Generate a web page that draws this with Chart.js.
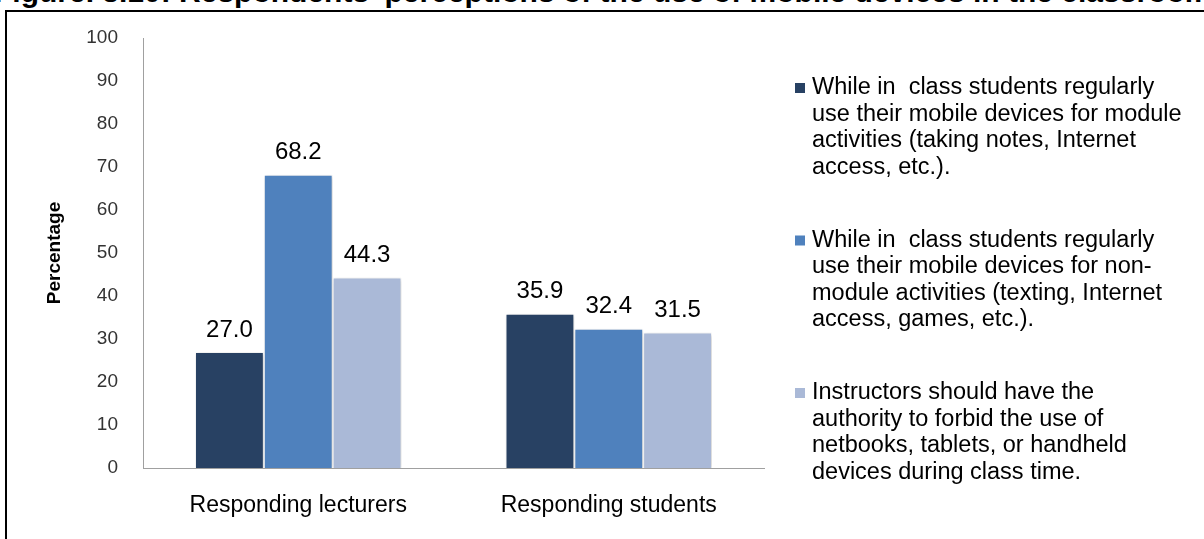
<!DOCTYPE html>
<html>
<head>
<meta charset="utf-8">
<script src="https://cdn.jsdelivr.net/npm/chart.js@4"></script>
<style>
    html, body { margin: 0; padding: 0; background: #fff; overflow: hidden; }
    #wrap { position: relative; width: 1204px; height: 539px; overflow: hidden; }
    #fig-title {
        position: absolute; left: -6px; top: -25px; white-space: nowrap;
        font: bold 30px "Liberation Sans", Arial, sans-serif; color: #000;
    }
    #frame {
        position: absolute; left: 5px; top: 10px; width: 1300px; height: 600px;
        border: 2px solid #000;
    }
    #chart { position: absolute; left: 0; top: 0; }
</style>
</head>
<body>
<div id="wrap">
    <div id="fig-title">Figure. 3.10: Respondents' perceptions of the use of mobile devices in the classroom</div>
    <div id="frame"></div>
    <canvas id="chart" width="1204" height="539"></canvas>
</div>
<script>
// Chart data
const categories = ['Responding lecturers', 'Responding students'];
const moduleUse = [27.0, 35.9];
const nonModuleUse = [68.2, 32.4];
const forbidAuthority = [44.3, 31.5];
const yTicks = [0, 10, 20, 30, 40, 50, 60, 70, 80, 90, 100];

// Legend texts, one array of lines per series
const seriesNames = [
    ['While in  class students regularly', 'use their mobile devices for module', 'activities (taking notes, Internet', 'access, etc.).'],
    ['While in  class students regularly', 'use their mobile devices for non-', 'module activities (texting, Internet', 'access, games, etc.).'],
    ['Instructors should have the', 'authority to forbid the use of', 'netbooks, tablets, or handheld', 'devices during class time.']
];
const seriesColors = ['#284163', '#4f81bd', '#aab9d7'];

const FONT = '"Liberation Sans", Arial, sans-serif';

// Value labels above the bars
const valueLabels = {
    id: 'valueLabels',
    afterDatasetsDraw(chart) {
        const ctx = chart.ctx;
        ctx.save();
        ctx.font = '24px ' + FONT;
        ctx.fillStyle = '#000';
        ctx.textAlign = 'center';
        ctx.textBaseline = 'middle';
        chart.data.datasets.forEach((ds, i) => {
            chart.getDatasetMeta(i).data.forEach((bar, j) => {
                ctx.fillText(ds.data[j].toFixed(1), bar.x, bar.y - 22);
            });
        });
        ctx.restore();
    }
};

// Soft shadow behind bars
const barShadow = {
    id: 'barShadow',
    beforeDatasetsDraw(chart) {
        const ctx = chart.ctx;
        ctx.save();
        ctx.shadowColor = 'rgba(0,0,0,0.22)';
        ctx.shadowBlur = 4;
        ctx.shadowOffsetX = 1;
        ctx.shadowOffsetY = 1;
    },
    afterDatasetsDraw(chart) {
        chart.ctx.restore();
    }
};

// Legend on the right with wrapped lines
const sideLegend = {
    id: 'sideLegend',
    afterDraw(chart) {
        const ctx = chart.ctx;
        const boxX = 795, textX = 812, firstY = 88, itemStep = 152.5, lineStep = 26.5;
        ctx.save();
        ctx.font = '23.5px ' + FONT;
        ctx.textAlign = 'left';
        ctx.textBaseline = 'middle';
        chart.data.datasets.forEach((ds, i) => {
            const y0 = firstY + i * itemStep;
            ctx.fillStyle = ds.backgroundColor;
            ctx.fillRect(boxX, y0 - 5, 10, 10);
            ctx.fillStyle = '#000';
            ds.legendLines.forEach((line, k) => {
                ctx.fillText(line, textX, y0 + k * lineStep);
            });
        });
        ctx.restore();
    }
};

const datasetValues = [moduleUse, nonModuleUse, forbidAuthority];

const ctx = document.getElementById('chart').getContext('2d');
const chart = new Chart(ctx, {
    type: 'bar',
    data: {
        labels: categories,
        datasets: datasetValues.map((vals, i) => ({
            label: seriesNames[i].join(' '),
            legendLines: seriesNames[i],
            data: vals,
            backgroundColor: seriesColors[i],
            borderColor: '#ffffff',
            borderWidth: 1,
            categoryPercentage: 0.665,
            barPercentage: 1.0
        }))
    },
    options: {
        responsive: false,
        devicePixelRatio: 1,
        animation: false,
        layout: { padding: { left: 0, right: 440, top: 38, bottom: 0 } },
        plugins: {
            legend: { display: false },
            tooltip: { enabled: false }
        },
        scales: {
            y: {
                min: 0,
                max: 100,
                afterBuildTicks(scale) {
                    scale.ticks = yTicks.map(v => ({ value: v }));
                },
                afterFit(scale) { scale.width = 143; },
                grid: { display: false, drawTicks: false },
                border: { display: true, color: '#a0a0a0', width: 1 },
                ticks: {
                    padding: 25,
                    color: '#333',
                    font: { family: FONT, size: 19 }
                },
                title: {
                    display: true,
                    text: 'Percentage',
                    color: '#000',
                    padding: { top: 43, bottom: 0 },
                    font: { family: FONT, size: 19, weight: 'bold' }
                }
            },
            x: {
                afterFit(scale) { scale.height = 71; },
                grid: { display: false, drawTicks: false },
                border: { display: true, color: '#a0a0a0', width: 1 },
                ticks: {
                    padding: 24,
                    color: '#000',
                    font: { family: FONT, size: 23 }
                }
            }
        }
    },
    plugins: [barShadow, valueLabels, sideLegend]
});
</script>
</body>
</html>
